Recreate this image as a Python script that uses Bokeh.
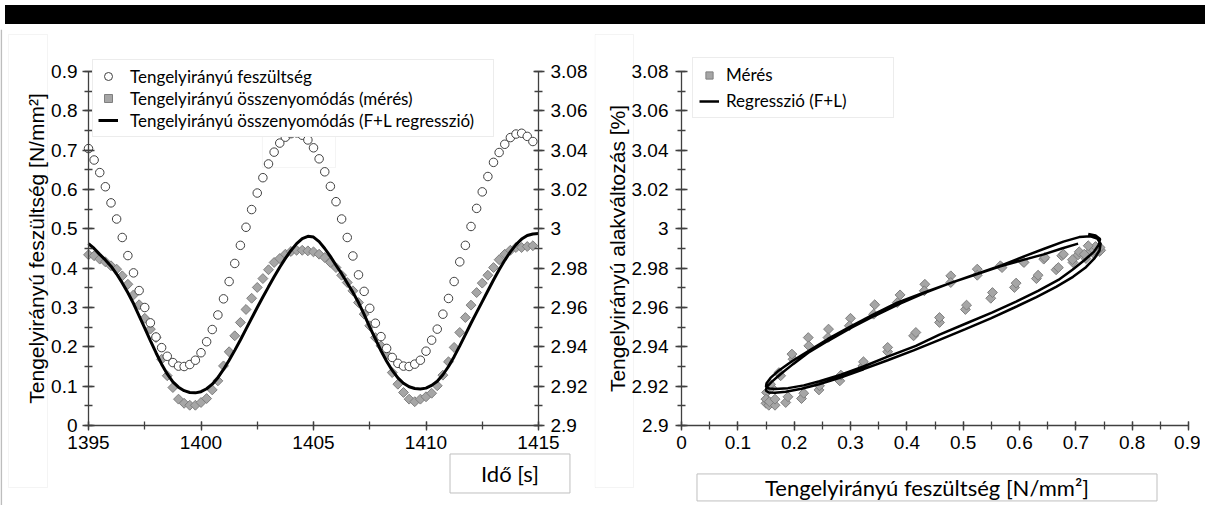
from bokeh.plotting import figure
from bokeh.models import (Range1d, LinearAxis, SingleIntervalTicker, CustomJSTickFormatter,
                          Legend, LegendItem, Label, Div, BoxAnnotation)
from bokeh.layouts import column, row
from bokeh.embed import file_html
from bokeh.resources import INLINE

# ---------------- data ----------------
time_s = [1395.00, 1395.25, 1395.50, 1395.75, 1396.00, 1396.25, 1396.50, 1396.75,
          1397.00, 1397.25, 1397.50, 1397.75, 1398.00, 1398.25, 1398.50, 1398.75,
          1399.00, 1399.25, 1399.50, 1399.75, 1400.00, 1400.25, 1400.50, 1400.75,
          1401.00, 1401.25, 1401.50, 1401.75, 1402.00, 1402.25, 1402.50, 1402.75,
          1403.00, 1403.25, 1403.50, 1403.75, 1404.00, 1404.25, 1404.50, 1404.75,
          1405.00, 1405.25, 1405.50, 1405.75, 1406.00, 1406.25, 1406.50, 1406.75,
          1407.00, 1407.25, 1407.50, 1407.75, 1408.00, 1408.25, 1408.50, 1408.75,
          1409.00, 1409.25, 1409.50, 1409.75, 1410.00, 1410.25, 1410.50, 1410.75,
          1411.00, 1411.25, 1411.50, 1411.75, 1412.00, 1412.25, 1412.50, 1412.75,
          1413.00, 1413.25, 1413.50, 1413.75, 1414.00, 1414.25, 1414.50, 1414.75]

stress = [0.704, 0.675, 0.643, 0.607, 0.566, 0.525, 0.478, 0.432, 0.388, 0.343,
          0.300, 0.261, 0.225, 0.198, 0.176, 0.160, 0.151, 0.150, 0.155, 0.166,
          0.185, 0.213, 0.244, 0.281, 0.322, 0.366, 0.412, 0.458, 0.504, 0.549,
          0.591, 0.630, 0.665, 0.695, 0.718, 0.733, 0.742, 0.744, 0.738, 0.726,
          0.706, 0.678, 0.645, 0.608, 0.569, 0.525, 0.478, 0.431, 0.383, 0.341,
          0.298, 0.260, 0.226, 0.196, 0.173, 0.158, 0.151, 0.150, 0.156, 0.166,
          0.189, 0.217, 0.245, 0.283, 0.323, 0.366, 0.416, 0.458, 0.506, 0.552,
          0.594, 0.633, 0.669, 0.694, 0.715, 0.732, 0.741, 0.743, 0.735, 0.722]

strain_meas = [2.9868, 2.9863, 2.9846, 2.9832, 2.9812, 2.9795, 2.9761, 2.9718, 2.9664, 2.9614,
               2.9545, 2.9490, 2.9447, 2.9337, 2.9253, 2.9193, 2.9134, 2.9113, 2.9103, 2.9103,
               2.9117, 2.9137, 2.9181, 2.9227, 2.9303, 2.9375, 2.9456, 2.9524, 2.9590, 2.9647,
               2.9702, 2.9747, 2.9792, 2.9829, 2.9849, 2.9871, 2.9885, 2.9891, 2.9891, 2.9888,
               2.9883, 2.9871, 2.9854, 2.9829, 2.9803, 2.9764, 2.9727, 2.9685, 2.9625, 2.9566,
               2.9507, 2.9447, 2.9405, 2.9363, 2.9269, 2.9210, 2.9168, 2.9134, 2.9121, 2.9134,
               2.9146, 2.9164, 2.9202, 2.9256, 2.9324, 2.9397, 2.9473, 2.9549, 2.9612, 2.9676,
               2.9724, 2.9764, 2.9803, 2.9843, 2.9871, 2.9891, 2.9905, 2.9905, 2.9910, 2.9914]

time_reg = time_s + [1415.00]
strain_reg = [2.9925, 2.9900, 2.9870, 2.9842, 2.9810, 2.9770, 2.9725, 2.9675, 2.9620, 2.9558,
              2.9495, 2.9432, 2.9370, 2.9312, 2.9262, 2.9222, 2.9195, 2.9177, 2.9168, 2.9166,
              2.9172, 2.9187, 2.9210, 2.9243, 2.9285, 2.9332, 2.9382, 2.9435, 2.9490, 2.9545,
              2.9600, 2.9653, 2.9705, 2.9756, 2.9805, 2.9850, 2.9890, 2.9925, 2.9950, 2.9962,
              2.9958, 2.9935, 2.9900, 2.9860, 2.9815, 2.9772, 2.9725, 2.9677, 2.9625, 2.9565,
              2.9500, 2.9440, 2.9380, 2.9327, 2.9280, 2.9242, 2.9215, 2.9197, 2.9188, 2.9186,
              2.9190, 2.9204, 2.9225, 2.9258, 2.9300, 2.9350, 2.9405, 2.9462, 2.9520, 2.9575,
              2.9630, 2.9685, 2.9740, 2.9792, 2.9840, 2.9883, 2.9920, 2.9948, 2.9966, 2.9974,
              2.9976]

# ---------------- layout geometry (pixels) ----------------
FIG_H = 476
W1, W2 = 594, 606
PX_T = 22.5            # px per second (left chart)
PX_S = 354 / 0.9       # px per N/mm2 (left y)
PX_E = 354 / 0.18      # px per % strain
PX_X2 = 507 / 0.9      # px per N/mm2 (right x)
ORG1_X, ORG2_X, ORG_Y = 88, 87, 396   # axis origins inside each canvas

X1 = (1395 - ORG1_X / PX_T, 1395 + (W1 - ORG1_X) / PX_T)
Y1 = (-(FIG_H - ORG_Y) / PX_S, ORG_Y / PX_S)
YE = (2.9 - (FIG_H - ORG_Y) / PX_E, 2.9 + ORG_Y / PX_E)
X2 = (-ORG2_X / PX_X2, (W2 - ORG2_X) / PX_X2)

AX = "#404040"
TICK_FONT = "Liberation Sans"
CAL = "Lato"
FRAME_C = "#d9d9d9"
fmt = CustomJSTickFormatter(code="return parseFloat(tick.toFixed(3)).toString();")
EPS = 1e-7


def style_axis(ax, tin=6, tout=6, mtin=4, mtout=4, standoff=5):
    ax.axis_line_color = AX
    ax.axis_line_width = 1.3
    ax.major_tick_line_color = AX
    ax.major_tick_line_width = 1.3
    ax.minor_tick_line_color = AX
    ax.minor_tick_line_width = 1.3
    ax.major_tick_in = tin
    ax.major_tick_out = tout
    ax.minor_tick_in = mtin
    ax.minor_tick_out = mtout
    ax.major_label_text_font = TICK_FONT
    ax.major_label_text_font_size = "19px"
    ax.major_label_text_color = "#000000"
    ax.major_label_standoff = standoff
    ax.axis_label_text_font = TICK_FONT
    ax.axis_label_text_font_style = "normal"
    ax.axis_label_text_font_size = "21px"
    ax.axis_label_text_color = "#000000"


def base_fig(w, xr, yr):
    p = figure(width=w, height=FIG_H, output_backend="svg", toolbar_location=None,
               x_range=Range1d(*xr), y_range=Range1d(*yr), x_axis_location=None,
               y_axis_location=None, min_border=0, background_fill_color="white",
               border_fill_color="white", outline_line_color=None)
    p.xgrid.visible = False
    p.ygrid.visible = False
    return p


def title_box(p, xr, yr, px_x, px_y, left_px, right_px, top_px=5, bottom_px=458):
    """light frame round a y-axis title, given in canvas pixels"""
    p.add_layout(BoxAnnotation(left=xr[0] + left_px / px_x, right=xr[0] + right_px / px_x,
                               top=yr[1] - top_px / px_y, bottom=yr[1] - bottom_px / px_y,
                               fill_alpha=0, line_color=FRAME_C, line_width=1,
                               level="underlay"))


DIAMOND_FILL = "#a6a6a6"
DIAMOND_LINE = "#7f7f7f"

# ---------------- left chart ----------------
p1 = base_fig(W1, X1, Y1)
p1.extra_y_ranges = {"strain": Range1d(*YE)}

# page edge line and y-title frame
p1.add_layout(BoxAnnotation(left=X1[0], right=X1[0] + 1.6 / PX_T, fill_color="#bdbdbd",
                            fill_alpha=1, line_alpha=0, level="underlay"))
title_box(p1, X1, Y1, PX_T, PX_S, 8, 47)

ax_b1 = LinearAxis(ticker=SingleIntervalTicker(interval=5, num_minor_ticks=2),
                   fixed_location=0, bounds=(1395, 1415))
style_axis(ax_b1, tin=4, tout=5, standoff=5)
p1.add_layout(ax_b1, "below")

ax_l1 = LinearAxis(ticker=SingleIntervalTicker(interval=0.1, num_minor_ticks=2), formatter=fmt,
                   fixed_location=1395, bounds=(-EPS, 0.9 + EPS),
                   axis_label="Tengelyirányú feszültség [N/mm²]", axis_label_standoff=0)
style_axis(ax_l1, standoff=5)
p1.add_layout(ax_l1, "left")

ax_r1 = LinearAxis(y_range_name="strain", formatter=fmt,
                   ticker=SingleIntervalTicker(interval=0.02, num_minor_ticks=2),
                   fixed_location=1415, bounds=(2.9 - EPS, 3.08 + EPS))
style_axis(ax_r1, tin=5, tout=6, standoff=6)
p1.add_layout(ax_r1, "right")

notch = BoxAnnotation(left=1402.73, right=1405.98, bottom=0.656, top=0.76,
                      fill_color="white", fill_alpha=1, line_color=FRAME_C,
                      line_width=1, level="underlay")
p1.add_layout(notch)

r_d1 = p1.scatter(time_s, strain_meas, y_range_name="strain", marker="square", angle=0.785398,
                  size=7, fill_color=DIAMOND_FILL, line_color=DIAMOND_LINE, line_width=1)
r_c1 = p1.scatter(time_s, stress, marker="circle", size=8.5, fill_color="white",
                  line_color="#404040", line_width=1)
r_l1 = p1.line(time_reg, strain_reg, y_range_name="strain", line_color="black", line_width=3)

leg1 = Legend(items=[LegendItem(label="Tengelyirányú feszültség", renderers=[r_c1]),
                     LegendItem(label="Tengelyirányú összenyomódás (mérés)", renderers=[r_d1]),
                     LegendItem(label="Tengelyirányú összenyomódás (F+L regresszió)", renderers=[r_l1])],
              location=(92, 368), label_text_font=CAL, label_text_font_size="17px",
              label_text_color="#000000",
              glyph_width=20, glyph_height=22, label_height=22, spacing=0, padding=5,
              label_standoff=12, label_width=358, border_line_color=FRAME_C,
              background_fill_color="white", background_fill_alpha=1, margin=0)
p1.add_layout(leg1)

lab1 = Label(x=1413.733, y=-0.122, text="Idő [s]", text_align="center", text_baseline="middle",
             text_font=CAL, text_font_size="22px", text_color="#000000",
             border_line_color="#bfbfbf", background_fill_color="white", padding=(31, 6))
p1.add_layout(lab1)

# ---------------- right chart ----------------
p2 = base_fig(W2, X2, YE)
title_box(p2, X2, YE, PX_X2, PX_E, 0.5, 39)

ax_b2 = LinearAxis(ticker=SingleIntervalTicker(interval=0.1, num_minor_ticks=2), formatter=fmt,
                   fixed_location=2.9, bounds=(-EPS, 0.9 + EPS))
style_axis(ax_b2, tin=4, tout=5, standoff=5)
p2.add_layout(ax_b2, "below")

ax_l2 = LinearAxis(ticker=SingleIntervalTicker(interval=0.02, num_minor_ticks=2), formatter=fmt,
                   fixed_location=0, bounds=(2.9 - EPS, 3.08 + EPS),
                   axis_label="Tengelyirányú alakváltozás [%]", axis_label_standoff=0)
style_axis(ax_l2, standoff=7)
p2.add_layout(ax_l2, "left")

r_d2 = p2.scatter(stress, strain_meas, marker="square", angle=0.785398, size=7,
                  fill_color=DIAMOND_FILL, line_color=DIAMOND_LINE, line_width=1)
r_l2 = p2.line(stress, strain_reg[:80], line_color="black", line_width=2.5)

leg2 = Legend(items=[LegendItem(label="Mérés", renderers=[r_d2]),
                     LegendItem(label="Regresszió (F+L)", renderers=[r_l2])],
              location=(98, 387), label_text_font=CAL, label_text_font_size="17px",
              label_text_color="#000000",
              glyph_width=20, glyph_height=18, label_height=18, spacing=5, padding=6,
              label_standoff=7, label_width=161, border_line_color=FRAME_C,
              background_fill_color="white", background_fill_alpha=1, margin=0)
p2.add_layout(leg2)

lab2 = Label(x=0.4358, y=2.8685, text="Tengelyirányú feszültség [N/mm²]", text_align="center",
             text_baseline="middle", text_font=CAL, text_font_size="22px", text_color="#000000",
             border_line_color="#bfbfbf", background_fill_color="white", padding=(68, 0))
p2.add_layout(lab2)

bar = Div(text="", width=1200, height=19, styles={"background-color": "black"})
layout = column(bar, row(p1, p2))

open("out.html", "w").write(file_html(layout, INLINE))
